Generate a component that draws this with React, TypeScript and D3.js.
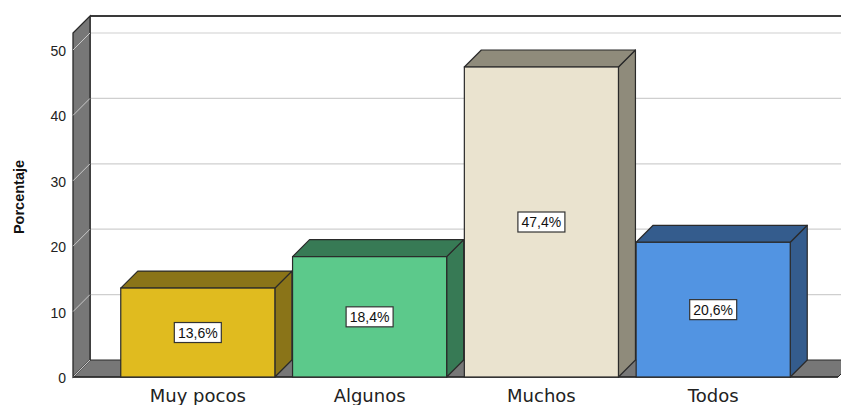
import React from "react";
import * as d3 from "d3";

const categories = ["Muy pocos", "Algunos", "Muchos", "Todos"];
const values = [13.6, 18.4, 47.4, 20.6];
const valueLabels = ["13,6%", "18,4%", "47,4%", "20,6%"];
const yTicks = [0, 10, 20, 30, 40, 50];
const frontColors = ["#E0BB1F", "#5CC98B", "#EAE3CF", "#5294E2"];
const sideColors = ["#8A7418", "#377A55", "#8F8B7B", "#345C8D"];

const W = 841;
const H = 405;
const D = 17; // depth offset
const FX0 = 73;
const FX1 = 838;

export default function App() {
  const y = d3.scaleLinear().domain([0, 52.6]).range([377, 33]);
  const x = d3
    .scaleBand<string>()
    .domain(categories)
    .range([FX0, FX1])
    .paddingInner(0.103)
    .paddingOuter(0.278);
  const y0 = y(0);
  const yTop = y(52.6);
  const bw = x.bandwidth();
  const stroke = "#2a2a2a";

  return (
    <svg
      width={W}
      height={H}
      style={{ position: "absolute", left: 0, top: 0, background: "#fff" }}
      fontFamily="'Liberation Sans', Arial, sans-serif"
    >
      {/* back wall */}
      <rect x={FX0 + D} y={yTop - D} width={FX1 - FX0 + 10} height={y0 - yTop} fill="#fff" />
      {/* gridlines on back wall */}
      {yTicks.filter((t) => t > 0).map((t) => (
        <line key={"g" + t} x1={FX0 + D} x2={FX1 + D + 20} y1={y(t) - D} y2={y(t) - D} stroke="#cfcfcf" strokeWidth={1.2} />
      ))}
      <line x1={FX0 + D} x2={FX1 + D + 20} y1={yTop - D} y2={yTop - D} stroke="#3a3a3a" strokeWidth={2} />
      <line x1={FX0 + D} x2={FX0 + D} y1={yTop - D} y2={y0 - D} stroke="#3a3a3a" strokeWidth={1.5} />
      {/* floor */}
      <path
        d={`M${FX0},${y0} L${FX0 + D},${y0 - D} L${FX1 + D},${y0 - D} L${FX1},${y0} Z`}
        fill="#777777"
        stroke={stroke}
        strokeWidth={1}
      />
      {/* left wall */}
      <path
        d={`M${FX0},${y0} L${FX0},${yTop} L${FX0 + D},${yTop - D} L${FX0 + D},${y0 - D} Z`}
        fill="#777777"
        stroke={stroke}
        strokeWidth={1.3}
      />
      {yTicks.map((t) => (
        <line key={"d" + t} x1={FX0} y1={y(t)} x2={FX0 + D} y2={y(t) - D} stroke="#c8c8c8" strokeWidth={1} />
      ))}
      <line x1={FX0} x2={FX1} y1={y0} y2={y0} stroke={stroke} strokeWidth={1.5} />
      {/* tick labels */}
      {yTicks.map((t) => (
        <text key={"t" + t} x={66} y={y(t) + 6} textAnchor="end" fontSize={14} fill="#222">
          {t}
        </text>
      ))}
      <text
        transform={`translate(24,197) rotate(-90)`}
        textAnchor="middle"
        fontSize={14.5}
        fontWeight="bold"
        fill="#111"
      >
        Porcentaje
      </text>
      {/* bars */}
      {categories.map((c, i) => {
        const x0 = x(c)!;
        const x1 = x0 + bw;
        const yt = y(values[i]);
        return (
          <g key={c}>
            <path
              d={`M${x1},${yt} L${x1 + D},${yt - D} L${x1 + D},${y0 - D} L${x1},${y0} Z`}
              fill={sideColors[i]}
              stroke={stroke}
              strokeWidth={1.2}
              strokeLinejoin="round"
            />
            <path
              d={`M${x0},${yt} L${x0 + D},${yt - D} L${x1 + D},${yt - D} L${x1},${yt} Z`}
              fill={sideColors[i]}
              stroke={stroke}
              strokeWidth={1.2}
              strokeLinejoin="round"
            />
            <rect x={x0} y={yt} width={bw} height={y0 - yt} fill={frontColors[i]} stroke={stroke} strokeWidth={1.2} />
            <rect
              x={x0 + bw / 2 - 23.5}
              y={y(values[i] / 2) - 10}
              width={47}
              height={20}
              fill="#fff"
              stroke="#333"
              strokeWidth={1.2}
            />
            <text x={x0 + bw / 2} y={y(values[i] / 2) + 5} textAnchor="middle" fontSize={14} fill="#111">
              {valueLabels[i]}
            </text>
            <text
              x={x0 + bw / 2}
              y={402}
              textAnchor="middle"
              fontSize={18}
              fontFamily="'DejaVu Sans', sans-serif"
              fill="#222"
            >
              {c}
            </text>
          </g>
        );
      })}
    </svg>
  );
}
